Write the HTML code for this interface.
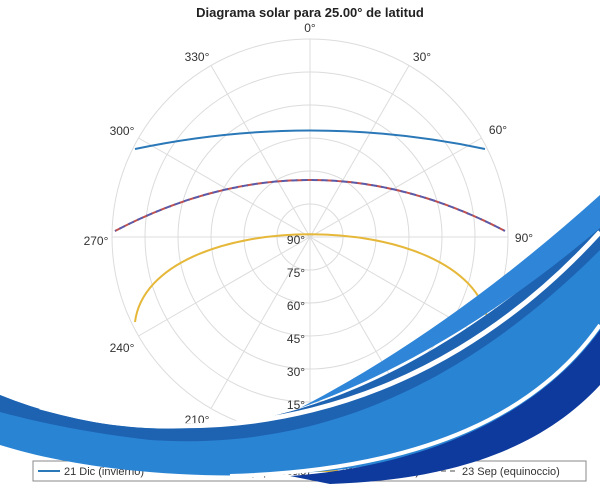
<!DOCTYPE html>
<html><head><meta charset="utf-8"><style>
html,body{margin:0;padding:0;background:#fff;}
svg{display:block;font-family:"Liberation Sans",sans-serif;}
</style></head><body>
<svg width="600" height="490" viewBox="0 0 600 490" xmlns="http://www.w3.org/2000/svg">
<text x="310" y="17" font-size="13" font-weight="bold" text-anchor="middle" fill="#222">Diagrama solar para 25.00° de latitud</text>
<g fill="none" stroke="#dcdcdc" stroke-width="1">
<circle cx="310" cy="237" r="33"/><circle cx="310" cy="237" r="66"/><circle cx="310" cy="237" r="99"/>
<circle cx="310" cy="237" r="132"/><circle cx="310" cy="237" r="165"/><circle cx="310" cy="237" r="198"/>
<line x1="310" y1="39" x2="310" y2="435"/>
<line x1="112" y1="237" x2="508" y2="237"/>
<line x1="409" y1="65.5" x2="211" y2="408.5"/>
<line x1="211" y1="65.5" x2="409" y2="408.5"/>
<line x1="481.5" y1="138" x2="138.5" y2="336"/>
<line x1="138.5" y1="138" x2="481.5" y2="336"/>
</g>
<g font-size="12" fill="#333" text-anchor="middle">
<text x="310" y="32">0°</text><text x="422" y="61">30°</text><text x="498" y="134">60°</text>
<text x="524" y="242">90°</text><text x="122" y="352">240°</text><text x="96" y="245">270°</text>
<text x="122" y="135">300°</text><text x="197" y="61">330°</text><text x="197" y="424">210°</text>
</g>
<g font-size="12" fill="#333" text-anchor="middle">
<text x="296" y="244">90°</text><text x="296" y="277">75°</text><text x="296" y="310">60°</text>
<text x="296" y="343">45°</text><text x="296" y="376">30°</text><text x="296" y="409">15°</text>
</g>
<path d="M135,149 Q310,112 485,149" fill="none" stroke="#2a78b8" stroke-width="2"/>
<path d="M115,231 Q310,129 505,231" fill="none" stroke="#c0504d" stroke-width="2" stroke-dasharray="6,4"/>
<path d="M115,231 Q310,129 505,231" fill="none" stroke="#5a5aa8" stroke-width="2" stroke-dasharray="6,4" stroke-dashoffset="5"/>
<path d="M135,322 C150,205 470,205 488,322" fill="none" stroke="#e6b83a" stroke-width="2"/>
<rect x="33" y="461" width="553" height="20" fill="#fff" stroke="#888" stroke-width="1"/>
<line x1="38" y1="471" x2="60" y2="471" stroke="#2a78b8" stroke-width="2"/>
<text x="64" y="475" font-size="11" fill="#333">21 Dic (invierno)</text>
<text x="250" y="475" font-size="11" fill="#333">(equinoccio)</text>
<line x1="316" y1="471" x2="338" y2="471" stroke="#e6b83a" stroke-width="2"/>
<text x="342" y="475" font-size="11" fill="#333">21 Jun (verano)</text>
<line x1="432" y1="471" x2="456" y2="471" stroke="#888" stroke-width="1.5" stroke-dasharray="5,4"/>
<text x="462" y="475" font-size="11" fill="#333">23 Sep (equinoccio)</text>
<!-- swoosh -->
<path d="M0,395 C150,455 350,455 600,222 L600,380 C450,495 150,492 0,445 Z" fill="#2a84d4"/>
<path d="M0,395 C150,455 350,455 600,222 L600,250 C450,400 300,450 150,440 C80,432 30,420 0,412 Z" fill="#1e63b2"/>
<path d="M300,408 Q450,330 600,195 L600,228 Q450,355 300,408 Z" fill="#2f86d8"/>
<path d="M40,407 C200,450 420,430 600,232" fill="none" stroke="#fff" stroke-width="5"/>
<path d="M290,476 C450,464 550,400 600,330 L600,385 C540,450 450,480 330,484 Z" fill="#0e3a9e"/>
<path d="M230,476 C430,470 540,410 600,325" fill="none" stroke="#fff" stroke-width="4"/>
</svg>
</body></html>
